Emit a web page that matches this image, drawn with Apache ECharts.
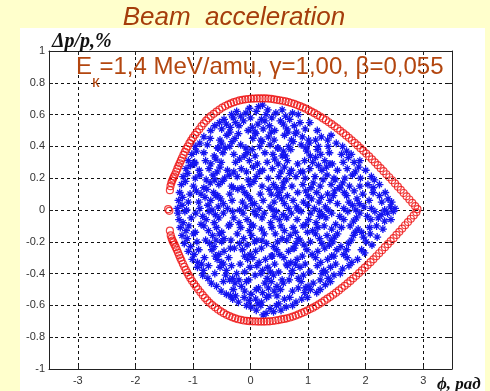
<!DOCTYPE html>
<html>
<head>
<meta charset="utf-8">
<script src="https://cdn.jsdelivr.net/npm/echarts@6/dist/echarts.min.js"></script>
<style>
  html, body { margin: 0; padding: 0; background: #FFFFCC; }
  #chart { width: 490px; height: 391px; }
</style>
</head>
<body>
<div id="chart"></div>
<script>
// Phase axis ticks (rad) and momentum-spread ticks (%)
const phaseTicks = [-3, -2, -1, 0, 1, 2, 3];
const phaseRange = [-3.5, 3.5];
const dpRange = [-1, 1];
const dpStep = 0.2;

const titleText = 'Beam  acceleration';
const yName = 'Δp/p,%';
const xName = 'ϕ, рад';
const energyMain = 'E';
const energySub = 'к';
const energyRest = '=1,4 MeV/amu, γ=1,00, β=0,055';

// Separatrix, upper branch [phase, dp]
const sepUpper = [
  [-1.43,0.005],[-1.40,0.125],[-1.39,0.15],[-1.375,0.17],[-1.36,0.185],[-1.345,0.198],[-1.33,0.21],[-1.31,0.225],
  [-1.29,0.242],[-1.27,0.26],[-1.25,0.277],[-1.23,0.294],[-1.21,0.31],[-1.19,0.327],[-1.165,0.347],[-1.14,0.366],
  [-1.115,0.384],[-1.09,0.40],[-1.06,0.42],[-1.03,0.438],[-1.00,0.455],[-0.965,0.473],[-0.93,0.49],[-0.89,0.508],
  [-0.85,0.527],[-0.81,0.545],[-0.77,0.562],[-0.73,0.577],[-0.69,0.59],[-0.64,0.605],[-0.59,0.619],[-0.54,0.632],
  [-0.49,0.644],[-0.44,0.654],[-0.39,0.663],[-0.34,0.671],[-0.29,0.678],[-0.24,0.684],[-0.19,0.689],[-0.14,0.693],
  [-0.09,0.696],[-0.04,0.698],[0.01,0.70],[0.06,0.701],[0.11,0.702],[0.16,0.702],[0.21,0.702],[0.26,0.702],
  [0.31,0.701],[0.36,0.699],[0.41,0.696],[0.46,0.693],[0.51,0.69],[0.56,0.687],[0.61,0.683],[0.66,0.678],
  [0.71,0.673],[0.76,0.667],[0.81,0.66],[0.86,0.653],[0.91,0.645],[0.96,0.637],[1.01,0.628],[1.06,0.619],
  [1.11,0.609],[1.16,0.598],[1.21,0.588],[1.26,0.576],[1.31,0.565],[1.36,0.552],[1.41,0.54],[1.46,0.526],
  [1.51,0.513],[1.56,0.498],[1.61,0.484],[1.66,0.469],[1.71,0.454],[1.76,0.438],[1.81,0.422],[1.86,0.406],
  [1.91,0.389],[1.96,0.372],[2.01,0.355],[2.06,0.337],[2.11,0.319],[2.16,0.30],[2.21,0.282],[2.26,0.263],
  [2.31,0.244],[2.36,0.225],[2.41,0.206],[2.46,0.187],[2.51,0.167],[2.56,0.147],[2.61,0.127],[2.66,0.107],
  [2.71,0.086],[2.76,0.066],[2.81,0.045],[2.86,0.024],[2.90,0.006]
];

// Separatrix, lower branch [phase, dp]
const sepLower = [
  [-1.41,-0.005],[-1.40,-0.13],[-1.385,-0.16],[-1.37,-0.178],[-1.355,-0.192],[-1.34,-0.204],[-1.32,-0.218],[-1.30,-0.234],
  [-1.28,-0.25],[-1.26,-0.268],[-1.24,-0.285],[-1.22,-0.302],[-1.20,-0.318],[-1.175,-0.338],[-1.15,-0.357],[-1.125,-0.376],
  [-1.10,-0.393],[-1.075,-0.41],[-1.045,-0.429],[-1.015,-0.447],[-0.98,-0.465],[-0.945,-0.482],[-0.91,-0.499],[-0.87,-0.518],
  [-0.83,-0.536],[-0.79,-0.553],[-0.75,-0.569],[-0.71,-0.584],[-0.665,-0.598],[-0.615,-0.612],[-0.565,-0.626],[-0.515,-0.638],
  [-0.465,-0.649],[-0.415,-0.659],[-0.365,-0.667],[-0.315,-0.675],[-0.265,-0.681],[-0.215,-0.687],[-0.165,-0.691],[-0.115,-0.695],
  [-0.065,-0.697],[-0.015,-0.699],[0.035,-0.70],[0.085,-0.701],[0.135,-0.702],[0.185,-0.702],[0.235,-0.702],[0.285,-0.701],
  [0.335,-0.70],[0.385,-0.698],[0.435,-0.695],[0.485,-0.692],[0.535,-0.688],[0.585,-0.685],[0.635,-0.681],[0.685,-0.676],
  [0.735,-0.67],[0.785,-0.664],[0.835,-0.657],[0.885,-0.649],[0.935,-0.641],[0.985,-0.632],[1.035,-0.623],[1.085,-0.614],
  [1.135,-0.604],[1.185,-0.593],[1.235,-0.582],[1.285,-0.57],[1.335,-0.558],[1.385,-0.546],[1.435,-0.533],[1.485,-0.52],
  [1.535,-0.506],[1.585,-0.491],[1.635,-0.477],[1.685,-0.462],[1.735,-0.446],[1.785,-0.43],[1.835,-0.414],[1.885,-0.397],
  [1.935,-0.38],[1.985,-0.363],[2.035,-0.346],[2.085,-0.328],[2.135,-0.31],[2.185,-0.291],[2.235,-0.272],[2.285,-0.253],
  [2.335,-0.234],[2.385,-0.215],[2.435,-0.196],[2.485,-0.177],[2.535,-0.157],[2.585,-0.137],[2.635,-0.117],[2.685,-0.096],
  [2.735,-0.076],[2.785,-0.055],[2.835,-0.034],[2.88,-0.014]
];

// Beam macro-particles [phase, dp]
const beamParticles = [
  [-0.33,0.60],[-0.24,0.62],[-0.08,0.61],[-0.02,0.64],[0.10,0.62],[0.14,0.65],[0.27,0.60],[0.30,0.63],[0.44,0.61],[0.55,0.63],[0.61,0.59],[0.73,0.61],[0.83,0.60],[0.21,0.66],
  [-0.54,0.55],[-0.46,0.57],[-0.30,0.58],[-0.26,0.55],[-0.12,0.56],[0.00,0.58],[0.19,0.57],[0.25,0.56],[0.37,0.58],[0.52,0.56],[0.57,0.54],[0.68,0.57],[0.86,0.55],[1.03,0.55],[-0.17,0.59],
  [-0.69,0.50],[-0.62,0.53],[-0.50,0.51],[-0.35,0.52],[-0.20,0.53],[-0.04,0.50],[0.03,0.52],[0.08,0.49],[0.22,0.51],[0.33,0.53],[0.42,0.50],[0.63,0.51],[0.76,0.53],[0.80,0.49],[0.95,0.51],[1.16,0.50],[-0.42,0.54],[0.13,0.54],
  [-0.81,0.46],[-0.70,0.45],[-0.53,0.44],[-0.41,0.47],[-0.27,0.45],[-0.21,0.48],[0.04,0.45],[0.09,0.48],[0.18,0.44],[0.31,0.46],[0.36,0.49],[0.59,0.47],[0.71,0.44],[0.78,0.48],[0.90,0.46],[1.01,0.44],[1.23,0.46],[1.34,0.44],[1.40,0.47],[-0.36,0.49],[0.65,0.49],
  [-0.96,0.40],[-0.88,0.42],[-0.75,0.41],[-0.57,0.39],[-0.50,0.42],[-0.36,0.40],[-0.32,0.43],[-0.17,0.41],[-0.08,0.39],[0.16,0.40],[0.20,0.43],[0.34,0.41],[0.48,0.39],[0.66,0.40],[0.74,0.43],[0.88,0.41],[0.96,0.39],[1.02,0.42],[1.18,0.40],[1.35,0.40],[1.49,0.42],[1.60,0.40],[0.41,0.44],[1.13,0.44],
  [-1.02,0.35],[-0.94,0.37],[-0.81,0.36],[-0.63,0.34],[-0.48,0.36],[-0.44,0.39],[-0.29,0.35],[-0.06,0.36],[0.03,0.38],[0.08,0.34],[0.25,0.36],[0.39,0.35],[0.57,0.37],[0.61,0.34],[0.70,0.38],[0.98,0.37],[1.04,0.34],[1.16,0.38],[1.22,0.35],[1.37,0.36],[1.58,0.35],[1.67,0.37],[1.75,0.35],[-0.56,0.39],[0.47,0.39],
  [-1.08,0.31],[-0.97,0.30],[-0.78,0.31],[-0.69,0.29],[-0.60,0.32],[-0.51,0.30],[-0.26,0.30],[-0.19,0.32],[-0.02,0.31],[0.12,0.29],[0.29,0.30],[0.42,0.32],[0.48,0.29],[0.64,0.31],[0.82,0.29],[0.94,0.31],[1.08,0.30],[1.13,0.33],[1.29,0.31],[1.38,0.29],[1.61,0.30],[1.70,0.33],[1.80,0.30],[1.90,0.31],[-0.11,0.34],[0.55,0.34],
  [-1.12,0.26],[-1.04,0.28],[-0.89,0.25],[-0.72,0.26],[-0.58,0.24],[-0.53,0.27],[-0.40,0.25],[-0.16,0.26],[-0.07,0.24],[0.05,0.27],[0.21,0.25],[0.38,0.26],[0.53,0.24],[0.59,0.27],[0.71,0.25],[0.91,0.24],[1.03,0.26],[1.18,0.28],[1.24,0.25],[1.32,0.27],[1.51,0.25],[1.68,0.26],[1.82,0.24],[1.88,0.27],[2.00,0.25],[-0.97,0.29],[1.42,0.29],
  [-1.17,0.21],[-1.09,0.23],[-0.96,0.20],[-0.88,0.22],[-0.77,0.19],[-0.65,0.22],[-0.45,0.20],[-0.37,0.22],[-0.23,0.21],[-0.04,0.19],[0.10,0.21],[0.16,0.24],[0.31,0.20],[0.49,0.21],[0.62,0.19],[0.68,0.23],[0.79,0.21],[0.95,0.20],[1.12,0.21],[1.26,0.19],[1.33,0.22],[1.45,0.20],[1.64,0.20],[1.77,0.22],[1.91,0.20],[2.10,0.21],[2.15,0.19],[-0.29,0.24],[0.87,0.24],
  [-1.20,0.16],[-1.13,0.18],[-0.99,0.15],[-0.81,0.14],[-0.70,0.17],[-0.55,0.16],[-0.49,0.18],[-0.33,0.15],[-0.15,0.14],[-0.01,0.16],[0.06,0.18],[0.20,0.15],[0.40,0.16],[0.45,0.14],[0.57,0.17],[0.72,0.15],[0.91,0.16],[1.05,0.14],[1.09,0.17],[1.21,0.15],[1.40,0.16],[1.54,0.14],[1.60,0.17],[1.72,0.15],[1.90,0.15],[2.04,0.16],[2.13,0.14],[2.24,0.16],[-0.62,0.19],[1.47,0.19],
  [-1.23,0.11],[-1.05,0.10],[-0.94,0.12],[-0.86,0.10],[-0.76,0.13],[-0.64,0.11],[-0.57,0.09],[-0.36,0.10],[-0.22,0.13],[-0.10,0.11],[-0.05,0.09],[0.17,0.10],[0.32,0.13],[0.36,0.10],[0.50,0.11],[0.64,0.09],[0.82,0.11],[0.96,0.12],[1.00,0.09],[1.15,0.11],[1.34,0.10],[1.46,0.12],[1.63,0.11],[1.67,0.09],[1.80,0.12],[1.95,0.10],[2.13,0.11],[2.24,0.09],[2.34,0.11],[0.56,0.14],[-0.30,0.14],[1.55,0.14],
  [-1.25,0.06],[-1.18,0.08],[-1.08,0.05],[-0.90,0.05],[-0.79,0.08],[-0.69,0.06],[-0.52,0.07],[-0.47,0.04],[-0.32,0.06],[-0.14,0.05],[0.00,0.07],[0.07,0.04],[0.22,0.06],[0.41,0.05],[0.54,0.07],[0.59,0.04],[0.74,0.06],[0.92,0.05],[1.06,0.07],[1.19,0.05],[1.23,0.08],[1.38,0.06],[1.51,0.04],[1.71,0.05],[1.85,0.07],[1.89,0.04],[2.06,0.06],[2.28,0.05],[2.39,0.07],[2.45,0.05],[-0.60,0.09],[0.47,0.09],[1.44,0.09],
  [-1.27,0.01],[-1.19,0.03],[-1.11,0.00],[-0.88,0.01],[-0.74,0.03],[-0.67,0.00],[-0.56,0.02],[-0.40,0.01],[-0.19,0.00],[-0.08,0.02],[0.03,0.04],[0.15,0.01],[0.34,0.02],[0.39,0.00],[0.66,0.01],[0.80,0.02],[0.83,0.00],[0.99,0.03],[1.11,0.01],[1.30,0.02],[1.35,0.00],[1.62,0.01],[1.77,0.03],[1.83,0.00],[1.97,0.02],[2.10,0.01],[2.33,0.00],[2.43,0.02],[2.51,0.01],
  [-1.26,-0.02],[-1.14,-0.01],[-0.95,-0.02],[-0.83,-0.04],[-0.72,-0.01],[-0.61,-0.03],[-0.47,-0.02],[-0.31,-0.01],[-0.13,-0.02],[0.06,-0.01],[0.10,-0.03],[0.24,-0.02],[0.45,-0.01],[0.57,-0.03],[0.71,-0.02],[0.88,-0.01],[1.05,-0.02],[1.20,-0.01],[1.25,-0.03],[1.41,-0.02],[1.55,-0.04],[1.69,-0.01],[1.90,-0.02],[2.03,-0.04],[2.16,-0.01],[2.27,-0.03],[2.38,-0.02],[2.48,-0.01],
  [-1.24,-0.06],[-1.17,-0.08],[-1.03,-0.05],[-0.86,-0.09],[-0.77,-0.06],[-0.63,-0.08],[-0.55,-0.05],[-0.29,-0.05],[-0.20,-0.08],[-0.06,-0.06],[0.01,-0.09],[0.20,-0.05],[0.35,-0.08],[0.50,-0.06],[0.63,-0.05],[0.81,-0.06],[0.96,-0.09],[1.01,-0.06],[1.14,-0.08],[1.31,-0.05],[1.48,-0.09],[1.62,-0.06],[1.79,-0.07],[1.84,-0.05],[2.09,-0.06],[2.22,-0.05],[2.33,-0.07],[2.44,-0.06],[-0.36,-0.09],[0.41,-0.04],[1.20,-0.04],
  [-1.22,-0.11],[-1.12,-0.13],[-1.07,-0.10],[-0.81,-0.10],[-0.73,-0.13],[-0.59,-0.11],[-0.50,-0.14],[-0.38,-0.10],[-0.17,-0.11],[-0.02,-0.13],[0.05,-0.10],[0.19,-0.12],[0.37,-0.11],[0.53,-0.10],[0.59,-0.13],[0.74,-0.11],[0.91,-0.10],[1.08,-0.13],[1.17,-0.11],[1.28,-0.10],[1.41,-0.12],[1.58,-0.11],[1.73,-0.10],[1.87,-0.12],[1.93,-0.14],[2.07,-0.11],[2.19,-0.10],[2.30,-0.12],[-0.96,-0.14],[0.99,-0.14],
  [-1.19,-0.16],[-1.10,-0.18],[-0.99,-0.15],[-0.78,-0.19],[-0.66,-0.16],[-0.54,-0.15],[-0.46,-0.18],[-0.23,-0.15],[-0.12,-0.18],[0.02,-0.16],[0.11,-0.19],[0.24,-0.15],[0.43,-0.15],[0.55,-0.18],[0.69,-0.16],[0.78,-0.14],[0.83,-0.18],[1.13,-0.15],[1.20,-0.18],[1.33,-0.16],[1.46,-0.17],[1.51,-0.15],[1.79,-0.16],[1.82,-0.14],[1.96,-0.17],[2.08,-0.15],[2.20,-0.17],[-0.60,-0.19],[0.63,-0.19],[1.40,-0.19],
  [-1.15,-0.21],[-1.04,-0.23],[-0.93,-0.20],[-0.71,-0.21],[-0.63,-0.23],[-0.50,-0.20],[-0.28,-0.24],[-0.19,-0.21],[-0.06,-0.22],[0.07,-0.20],[0.28,-0.21],[0.40,-0.23],[0.47,-0.20],[0.74,-0.24],[0.79,-0.21],[0.93,-0.22],[1.04,-0.20],[1.24,-0.21],[1.37,-0.22],[1.43,-0.20],[1.57,-0.23],[1.70,-0.21],[1.75,-0.19],[2.01,-0.20],[2.11,-0.22],[-0.34,-0.19],[0.20,-0.19],[0.86,-0.19],
  [-1.08,-0.26],[-0.98,-0.28],[-0.90,-0.25],[-0.67,-0.25],[-0.55,-0.28],[-0.46,-0.26],[-0.35,-0.24],[-0.14,-0.25],[-0.01,-0.28],[0.09,-0.26],[0.19,-0.24],[0.45,-0.25],[0.51,-0.28],[0.66,-0.26],[0.76,-0.24],[0.98,-0.25],[1.07,-0.28],[1.17,-0.26],[1.29,-0.24],[1.50,-0.25],[1.62,-0.28],[1.67,-0.25],[1.93,-0.25],[1.98,-0.27],[-0.61,-0.29],[0.38,-0.29],[1.41,-0.29],
  [-1.01,-0.31],[-0.92,-0.33],[-0.80,-0.30],[-0.58,-0.31],[-0.50,-0.33],[-0.38,-0.30],[-0.18,-0.34],[-0.05,-0.31],[0.04,-0.30],[0.15,-0.33],[0.26,-0.31],[0.36,-0.29],[0.58,-0.30],[0.70,-0.33],[0.81,-0.31],[0.90,-0.29],[1.13,-0.30],[1.22,-0.33],[1.34,-0.31],[1.45,-0.29],[1.68,-0.30],[1.76,-0.33],[1.86,-0.31],[-0.85,-0.34],[0.63,-0.34],[-0.10,-0.29],
  [-0.92,-0.36],[-0.82,-0.38],[-0.73,-0.35],[-0.53,-0.36],[-0.42,-0.38],[-0.33,-0.35],[-0.10,-0.39],[-0.01,-0.36],[0.11,-0.35],[0.21,-0.38],[0.30,-0.36],[0.42,-0.34],[0.64,-0.35],[0.73,-0.38],[0.86,-0.36],[0.95,-0.34],[1.16,-0.35],[1.27,-0.38],[1.39,-0.36],[1.48,-0.34],[1.60,-0.37],[1.71,-0.35],[-0.47,-0.34],[0.78,-0.34],[0.35,-0.39],
  [-0.83,-0.41],[-0.74,-0.43],[-0.62,-0.40],[-0.43,-0.41],[-0.31,-0.43],[-0.24,-0.40],[-0.03,-0.44],[0.08,-0.41],[0.18,-0.40],[0.29,-0.43],[0.40,-0.41],[0.49,-0.39],[0.71,-0.40],[0.83,-0.43],[0.92,-0.41],[1.03,-0.39],[1.24,-0.40],[1.35,-0.43],[1.45,-0.41],[1.56,-0.40],[-0.36,-0.44],[0.55,-0.44],[1.30,-0.39],
  [-0.68,-0.46],[-0.59,-0.48],[-0.47,-0.45],[-0.27,-0.46],[-0.16,-0.48],[-0.07,-0.45],[0.14,-0.49],[0.25,-0.46],[0.36,-0.45],[0.46,-0.48],[0.57,-0.46],[0.67,-0.44],[0.88,-0.45],[1.00,-0.48],[1.09,-0.46],[1.21,-0.44],[1.30,-0.47],[1.39,-0.45],[-0.20,-0.44],[0.95,-0.49],[0.31,-0.49],
  [-0.51,-0.51],[-0.42,-0.53],[-0.30,-0.50],[-0.10,-0.51],[0.01,-0.53],[0.10,-0.50],[0.21,-0.52],[0.32,-0.54],[0.41,-0.51],[0.52,-0.50],[0.73,-0.51],[0.83,-0.49],[0.94,-0.52],[1.04,-0.50],[1.15,-0.52],[1.21,-0.50],[-0.35,-0.54],[0.46,-0.54],
  [-0.31,-0.56],[-0.21,-0.58],[-0.11,-0.55],[-0.02,-0.57],[0.09,-0.56],[0.19,-0.58],[0.28,-0.55],[0.49,-0.59],[0.59,-0.56],[0.68,-0.55],[0.79,-0.58],[0.89,-0.56],[0.99,-0.55],[0.13,-0.59],[-0.26,-0.54],
  [0.01,-0.61],[0.10,-0.63],[0.18,-0.60],[0.27,-0.65],[0.34,-0.62],[0.45,-0.60],[0.53,-0.63],[0.62,-0.61],[0.73,-0.60],[0.22,-0.66],[0.40,-0.64],[-0.07,-0.60]
];

const headingColor = '#A53D0B';
const noteColor = '#B3460F';
const axisColor = '#222';

// asterisk marker: plus with shorter diagonals
const starPath = 'path://M5,0L5,10M0,5L10,5M1.8,1.8L8.2,8.2M1.8,8.2L8.2,1.8';

const mctx = document.createElement('canvas').getContext('2d');
function textWidth(str, font) { mctx.font = font; return mctx.measureText(str).width; }

const noteFont = 'normal 24px "Liberation Sans", Arial, sans-serif';
const noteSubFont = 'normal 17px "Liberation Sans", Arial, sans-serif';
const noteX = 76;
const wE = textWidth(energyMain, noteFont);
const wSub = textWidth(energySub, noteSubFont);

const chart = echarts.init(document.getElementById('chart'), null, { renderer: 'canvas' });

const frameAxisLine = { show: true, onZero: false, lineStyle: { color: axisColor, width: 1 } };
const dashed = { show: true, lineStyle: { color: '#111', width: 1, type: [3, 3] } };
const labelFont = '"Liberation Sans", Arial, sans-serif';

chart.setOption({
  backgroundColor: '#FFFFCC',
  animation: false,
  grid: { left: 49, top: 51, right: 38, bottom: 22, containLabel: false },
  xAxis: [
    {
      type: 'value', min: phaseRange[0], max: phaseRange[1], position: 'bottom',
      axisLine: frameAxisLine,
      axisTick: { show: true, inside: true, length: 4, customValues: phaseTicks, lineStyle: { color: axisColor } },
      axisLabel: { customValues: phaseTicks, color: '#333', fontSize: 11, margin: 6, fontFamily: labelFont },
      splitLine: dashed
    },
    {
      type: 'value', min: phaseRange[0], max: phaseRange[1], position: 'top',
      axisLine: frameAxisLine,
      axisTick: { show: true, inside: true, length: 4, customValues: phaseTicks, lineStyle: { color: axisColor } },
      axisLabel: { show: false },
      splitLine: { show: false }
    }
  ],
  yAxis: [
    {
      type: 'value', min: dpRange[0], max: dpRange[1], interval: dpStep, position: 'left',
      axisLine: frameAxisLine,
      axisTick: { show: true, inside: true, length: 4, lineStyle: { color: axisColor } },
      axisLabel: { color: '#333', fontSize: 11, margin: 4, fontFamily: labelFont },
      splitLine: dashed
    },
    {
      type: 'value', min: dpRange[0], max: dpRange[1], interval: dpStep, position: 'right',
      axisLine: frameAxisLine,
      axisTick: { show: true, inside: true, length: 4, lineStyle: { color: axisColor } },
      axisLabel: { show: false },
      splitLine: { show: false }
    }
  ],
  series: [
    {
      type: 'scatter', name: 'beam', xAxisIndex: 0, yAxisIndex: 0,
      data: beamParticles,
      symbol: starPath, symbolSize: 8,
      itemStyle: { color: 'rgba(0,0,0,0)', borderColor: '#1414F0', borderWidth: 1.3, opacity: 1 },
      emphasis: { disabled: true }, z: 3
    },
    {
      type: 'scatter', name: 'separatrix+', xAxisIndex: 0, yAxisIndex: 0,
      data: sepUpper, symbol: 'circle', symbolSize: 7,
      itemStyle: { color: 'rgba(0,0,0,0)', borderColor: '#EE1010', borderWidth: 1.2 },
      emphasis: { disabled: true }, z: 4
    },
    {
      type: 'scatter', name: 'separatrix-', xAxisIndex: 0, yAxisIndex: 0,
      data: sepLower, symbol: 'circle', symbolSize: 7,
      itemStyle: { color: 'rgba(0,0,0,0)', borderColor: '#EE1010', borderWidth: 1.2 },
      emphasis: { disabled: true }, z: 4
    }
  ],
  graphic: [
    { type: 'rect', z: -10, shape: { x: 20, y: 28, width: 465, height: 363 }, style: { fill: '#FFFFFF' } },
    { type: 'text', x: 234, y: 18, z: 10,
      style: { text: titleText, font: 'italic 26px "Liberation Sans", Arial, sans-serif', fill: headingColor, align: 'center', verticalAlign: 'middle' } },
    { type: 'text', x: 52, y: 42, z: 10,
      style: { text: yName, font: 'italic bold 20px "Liberation Serif", "Times New Roman", serif', fill: '#111', align: 'left', verticalAlign: 'middle' } },
    { type: 'text', x: 437, y: 385, z: 10,
      style: { text: xName, font: 'italic bold 17px "Liberation Serif", "Times New Roman", serif', fill: '#111', align: 'left', verticalAlign: 'middle' } },
    { type: 'text', x: noteX, y: 67, z: 10,
      style: { text: energyMain, font: noteFont, fill: noteColor, align: 'left', verticalAlign: 'middle' } },
    { type: 'text', x: noteX + wE, y: 82, z: 10,
      style: { text: energySub, font: noteSubFont, fill: noteColor, align: 'left', verticalAlign: 'middle' } },
    { type: 'text', x: noteX + wE + wSub, y: 67, z: 10,
      style: { text: energyRest, font: noteFont, fill: noteColor, align: 'left', verticalAlign: 'middle' } }
  ]
});
</script>
</body>
</html>
